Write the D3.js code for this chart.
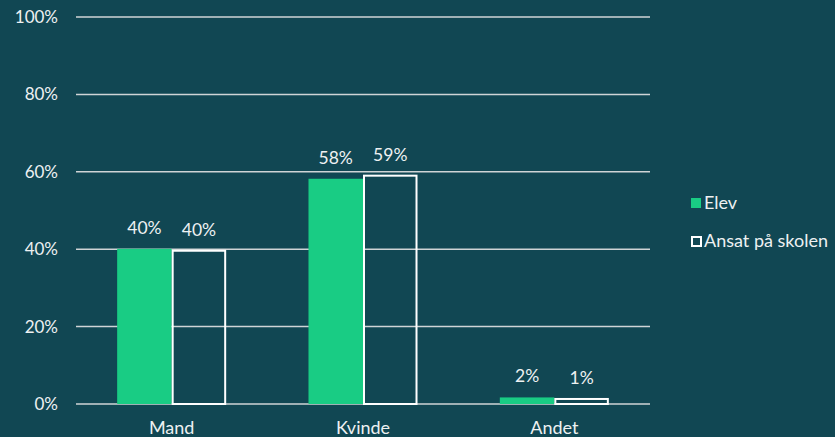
<!DOCTYPE html>
<html>
<head>
<meta charset="utf-8">
<script src="https://cdn.jsdelivr.net/npm/d3@7"></script>
<style>
  body { margin: 0; background: #114753; }
  svg { display: block; font-family: Lato, "Open Sans", sans-serif; }
</style>
</head>
<body>
<svg id="chart"></svg>
<script>
const categories = ["Mand", "Kvinde", "Andet"]
const series = ["Elev", "Ansat på skolen"]
const elev = [40.1, 58.2, 1.7]
const ansat = [39.6, 59.0, 1.3]
const labelsElev = ["40%", "58%", "2%"]
const labelsAnsat = ["40%", "59%", "1%"]
const yTicks = [0, 20, 40, 60, 80, 100]

const width = 835, height = 437
const bg = "#114753", green = "#19cc84", grid = "#d0d4d6", ink = "#eef1f2"

const svg = d3.select("#chart").attr("width", width).attr("height", height)
svg.append("rect").attr("width", width).attr("height", height).attr("fill", bg)

const x = d3.scaleBand().domain(categories).range([76, 650]).paddingInner(0).paddingOuter(0)
const xs = d3.scaleBand().domain(series).range([0, x.bandwidth()]).paddingInner(0).paddingOuter(0.755)
const y = d3.scaleLinear().domain([0, 100]).range([404, 17])

// grid + y labels
svg.append("g").selectAll("line").data(yTicks).join("line")
  .attr("x1", 76).attr("x2", 650)
  .attr("y1", d => y(d)).attr("y2", d => y(d))
  .attr("stroke", grid).attr("stroke-width", 1.5)

svg.append("g").selectAll("text").data(yTicks).join("text")
  .attr("x", 58).attr("y", d => y(d)).attr("dy", "0.35em")
  .attr("text-anchor", "end").attr("fill", ink).attr("font-size", 17)
  .text(d => d + "%")

const rows = categories.map((c, i) => ({c, vals: [
  {s: series[0], v: elev[i], l: labelsElev[i]},
  {s: series[1], v: ansat[i], l: labelsAnsat[i]}
]}))

const groups = svg.append("g").selectAll("g").data(rows).join("g")
  .attr("transform", d => `translate(${x(d.c)},0)`)

groups.selectAll("rect").data(d => d.vals).join("rect")
  .attr("x", d => xs(d.s) + (d.s === series[1] ? 1 : 0))
  .attr("y", d => y(d.v))
  .attr("width", d => xs.bandwidth() - (d.s === series[1] ? 2 : 0))
  .attr("height", d => y(0) - y(d.v))
  .attr("fill", d => d.s === series[0] ? green : "none")
  .attr("stroke", d => d.s === series[0] ? "none" : "#fff")
  .attr("stroke-width", 2)

groups.selectAll("text").data(d => d.vals).join("text")
  .attr("x", d => xs(d.s) + xs.bandwidth() / 2)
  .attr("y", d => y(d.v) - 15)
  .attr("text-anchor", "middle").attr("fill", ink).attr("font-size", 17.5)
  .text(d => d.l)

// x labels
svg.append("g").selectAll("text").data(categories).join("text")
  .attr("x", d => x(d) + x.bandwidth() / 2).attr("y", 434)
  .attr("text-anchor", "middle").attr("fill", ink).attr("font-size", 18)
  .text(d => d)

// legend
const legend = svg.append("g").selectAll("g").data(series).join("g")
  .attr("transform", (d, i) => `translate(691,${198 + i * 38})`)
legend.append("rect")
  .attr("x", d => d === series[0] ? 0 : 1).attr("y", d => d === series[0] ? 0 : 1)
  .attr("width", d => d === series[0] ? 10 : 9).attr("height", d => d === series[0] ? 10 : 9)
  .attr("fill", d => d === series[0] ? green : "none")
  .attr("stroke", d => d === series[0] ? "none" : "#fff").attr("stroke-width", 2)
legend.append("text")
  .attr("x", 13).attr("y", 5).attr("dy", "0.35em")
  .attr("fill", ink).attr("font-size", 18)
  .text(d => d)
</script>
</body>
</html>
